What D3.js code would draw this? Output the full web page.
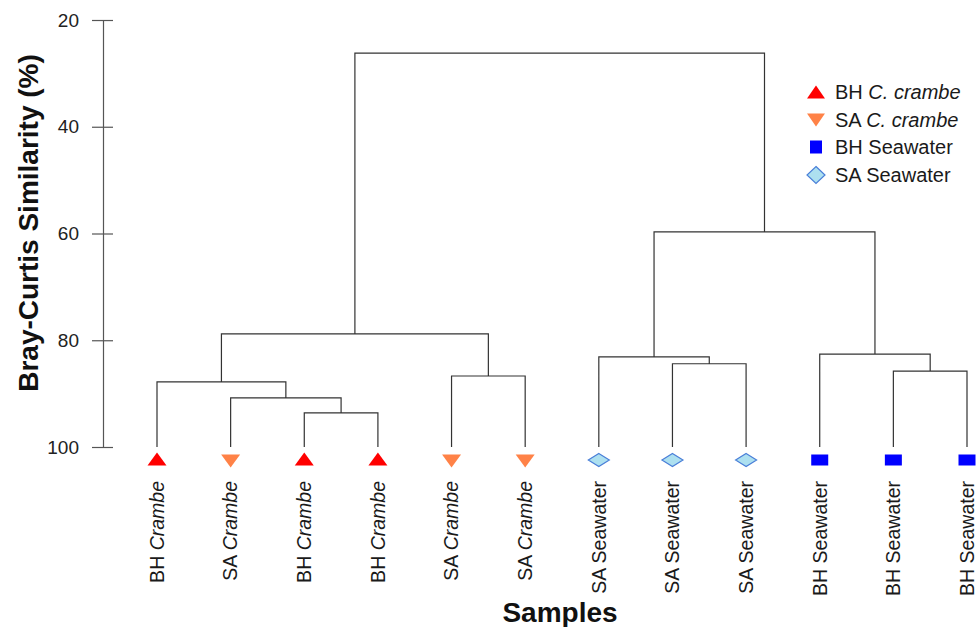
<!DOCTYPE html>
<html><head><meta charset="utf-8">
<script src="https://cdn.jsdelivr.net/npm/d3@7"></script>
<style>body{margin:0;background:#fff}text{font-family:"Liberation Sans",Arial,sans-serif}</style>
</head><body><svg id="c" width="978" height="627"></svg>
<script>
// Leaf samples in dendrogram order
const leafSite = ["BH","SA","BH","BH","SA","SA","SA","SA","SA","BH","BH","BH"];
const leafType = ["Crambe","Crambe","Crambe","Crambe","Crambe","Crambe","Seawater","Seawater","Seawater","Seawater","Seawater","Seawater"];
// Merge nodes: [left child, right child, similarity %]; leaves are "L0".."L11"
const mergeIds   = ["m1","m2","m3","m4","m5","m6","m7","m8","m9","m10","root"];
const mergeLeft  = ["L2","L1","L0","L4","m3","L7","L6","L10","L9","m7","m5"];
const mergeRight = ["L3","m1","m2","L5","m4","L8","m6","L11","m8","m9","m10"];
const mergeSim   = [93.6,90.8,87.8,86.7,78.8,84.4,83.1,85.8,82.6,59.7,26.2];
const yTicks = [20,40,60,80,100];
const legendLabels = [["BH ","C. crambe"],["SA ","C. crambe"],["BH Seawater",""],["SA Seawater",""]];
const legendKeys = ["BH-Crambe","SA-Crambe","BH-Seawater","SA-Seawater"];

const svg = d3.select("#c");
const x = d3.scalePoint().domain(d3.range(leafSite.length)).range([157,967]);
const y = d3.scaleLinear().domain([20,100]).range([20,447]);

// build nodes
const nodes = {};
leafSite.forEach((s,i)=>{ nodes["L"+i] = {x:x(i), sim:100}; });
mergeIds.forEach((id,k)=>{
  const a = nodes[mergeLeft[k]], b = nodes[mergeRight[k]];
  nodes[id] = {x:(a.x+b.x)/2, sim:mergeSim[k], a, b};
});

const path = d3.path();
mergeIds.forEach(id=>{
  const n = nodes[id];
  path.moveTo(n.a.x, y(n.a.sim)); path.lineTo(n.a.x, y(n.sim));
  path.lineTo(n.b.x, y(n.sim)); path.lineTo(n.b.x, y(n.b.sim));
});
svg.append("path").attr("d", path.toString()).attr("fill","none").attr("stroke","#333").attr("stroke-width",1.2);

// axis
const ax = svg.append("g").attr("transform","translate(103,0)")
  .call(d3.axisLeft(y).tickValues(yTicks).tickSize(10).tickSizeOuter(0));
ax.select(".domain").attr("stroke","#555").attr("stroke-width",1.2);
ax.selectAll(".tick line").attr("stroke","#555").attr("stroke-width",1.2).attr("x1",-11).attr("x2",10);
ax.selectAll(".tick text").attr("x",-24).attr("font-size",19).attr("fill","#222").attr("font-family","Liberation Sans, Arial, sans-serif");

// markers
const colors = {"BH-Crambe":"#ff0000","SA-Crambe":"#ff8247","BH-Seawater":"#0000ff","SA-Seawater":"#ade0f0"};
function marker(sel, key, w, h){
  if(key==="BH-Crambe") sel.append("path").attr("d",`M0,${-h/2}L${w/2},${h/2}L${-w/2},${h/2}Z`).attr("fill",colors[key]);
  else if(key==="SA-Crambe") sel.append("path").attr("d",`M0,${h/2}L${w/2},${-h/2}L${-w/2},${-h/2}Z`).attr("fill",colors[key]);
  else if(key==="BH-Seawater") sel.append("rect").attr("x",-w/2).attr("y",-h/2).attr("width",w).attr("height",h).attr("fill",colors[key]);
  else sel.append("path").attr("d",`M0,${-h/2}L${w/2},0L0,${h/2}L${-w/2},0Z`).attr("fill",colors[key]).attr("stroke","#4a7fd8").attr("stroke-width",1.2);
}
leafSite.forEach((s,i)=>{
  const key = s+"-"+leafType[i];
  const sizes = {"BH-Crambe":[19,13],"SA-Crambe":[19,13],"BH-Seawater":[17,11],"SA-Seawater":[21,13]};
  const cy = {"BH-Crambe":459,"SA-Crambe":461,"BH-Seawater":460,"SA-Seawater":460}[key];
  marker(svg.append("g").attr("transform",`translate(${x(i)},${cy})`), key, sizes[key][0], sizes[key][1]);
  const t = svg.append("text").attr("transform",`translate(${x(i)},481) rotate(-90)`)
    .attr("text-anchor","end").attr("dy","0.35em").attr("font-size",19.5).attr("fill","#1a1a1a");
  t.append("tspan").text(s+" ");
  if(leafType[i]==="Crambe") t.append("tspan").attr("font-style","italic").text("Crambe");
  else t.append("tspan").text("Seawater");
});

// legend
legendKeys.forEach((k,i)=>{
  const ly = [92,120,147,175][i];
  const lsz = {"BH-Crambe":[18,13],"SA-Crambe":[18,13],"BH-Seawater":[12,13],"SA-Seawater":[18,17]}[k];
  marker(svg.append("g").attr("transform",`translate(816,${ly})`), k, lsz[0], lsz[1]);
  const t = svg.append("text").attr("x",835).attr("y",ly).attr("dy","0.35em").attr("font-size",20).attr("fill","#1a1a1a");
  t.append("tspan").text(legendLabels[i][0]);
  if(legendLabels[i][1]) t.append("tspan").attr("font-style","italic").text(legendLabels[i][1]);
});

// titles
svg.append("text").attr("transform","translate(38,223) rotate(-90)").attr("text-anchor","middle")
  .attr("font-size",28).attr("font-weight","bold").attr("fill","#111").text("Bray-Curtis Similarity (%)");
svg.append("text").attr("x",560).attr("y",622).attr("text-anchor","middle")
  .attr("font-size",28).attr("font-weight","bold").attr("fill","#111").text("Samples");
</script></body></html>
